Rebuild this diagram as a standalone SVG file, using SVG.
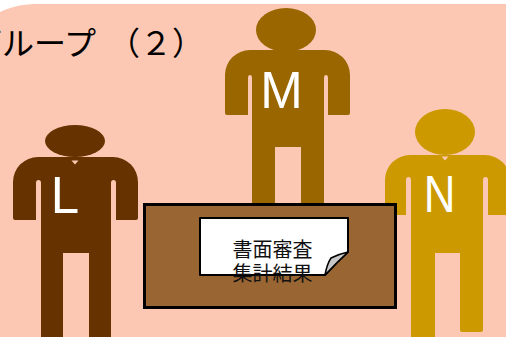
<svg xmlns="http://www.w3.org/2000/svg" width="506" height="337" viewBox="0 0 506 337">
  <style>
    .bg { fill: #FCC8B4; }
    .title { font-family: "Noto Sans CJK JP", "Noto Sans", sans-serif; font-size: 32px; fill: #000; }
    .letter { font-family: "Liberation Sans", Arial, sans-serif; font-size: 51px; fill: #fff; text-anchor: middle; }
    .notch { fill: #FCC8B4; }
    .person-l { fill: #663300; }
    .person-m { fill: #996600; }
    .person-n { fill: #CC9900; }
    .table { fill: #996633; stroke: #000; stroke-width: 3; }
    .paper { fill: #fff; stroke: #000; stroke-width: 2; stroke-linejoin: round; }
    .fold { fill: #C8C8C8; stroke: #000; stroke-width: 1.5; stroke-linejoin: round; }
    .doc-text { font-family: "Noto Sans CJK JP", "Noto Sans", sans-serif; font-size: 20px; fill: #111; text-anchor: middle; }
  </style>

  <!-- rounded backdrop panel -->
  <path id="backdrop" class="bg" d="M-45,337 V84 A80,80 0 0 1 35,4 H506 V337 Z"/>

  <!-- group heading -->
  <g id="heading">
    <text class="title" y="55"><tspan x="-30">グループ</tspan><tspan x="108">（２）</tspan></text>
  </g>

  <!-- person L -->
  <g id="person-L" class="person-l">
    <ellipse cx="75" cy="141" rx="30" ry="16"/>
    <path d="M13,220 V182 A25,25 0 0 1 38,157 H113 A25,25 0 0 1 138,182 V218 Q138,220 136,220 H116 V183 Q116,180 113.5,180 Q111,180 111,183 V340 H89 V253 H63 V340 H41 V183 Q41,180 38.5,180 Q36,180 36,183 V220 H15 Q13,220 13,218 Z"/>
    <polygon class="notch" points="71.5,160.5 78.5,160.5 75,164.5"/>
    <text class="letter" x="65" y="213">L</text>
  </g>

  <!-- person M -->
  <g id="person-M" class="person-m">
    <ellipse cx="286" cy="30" rx="30" ry="22"/>
    <path d="M225,115 V75 A25,25 0 0 1 250,50 H325 A25,25 0 0 1 350,75 V113 Q350,115 348,115 H328 V78 Q328,75 326,75 Q324,75 324,78 V240 H301 V147 H275 V240 H252 V78 Q252,75 250,75 Q248,75 248,78 V115 H227 Q225,115 225,113 Z"/>
    <text class="letter" x="281.5" y="108">M</text>
  </g>

  <!-- person N -->
  <g id="person-N" class="person-n">
    <ellipse cx="445" cy="132" rx="30" ry="23"/>
    <path d="M385,215 V180 A25,25 0 0 1 410,155 H485 A25,25 0 0 1 510,180 V215 H488 V180 Q488,177 485.5,177 Q483,177 483,180 V330 Q483,332 481,332 H462 Q460,332 460,330 V253 H435 V340 H411 V180 Q411,177 408.5,177 Q406,177 406,180 V215 H387 Q385,215 385,213 Z"/>
    <polygon class="notch" points="441.5,156.5 448.5,156.5 445,160.5"/>
    <text class="letter" x="439.5" y="212" transform="translate(439.5 0) scale(0.86 1) translate(-439.5 0)">N</text>
  </g>

  <!-- table -->
  <g id="table">
    <rect class="table" x="144.5" y="204.5" width="251" height="103"/>
  </g>

  <!-- document with curled corner -->
  <g id="document">
    <path class="paper" d="M200,218 H348 V252 Q337,262 325,275 H200 Z"/>
    <path class="fold" d="M325,275 Q327,264 331,258 Q339,254 348,252 Q337,262 325,275 Z"/>
    <text class="doc-text"><tspan x="272.5" y="257">書面審査</tspan><tspan x="272.5" y="281">集計結果</tspan></text>
  </g>
</svg>
